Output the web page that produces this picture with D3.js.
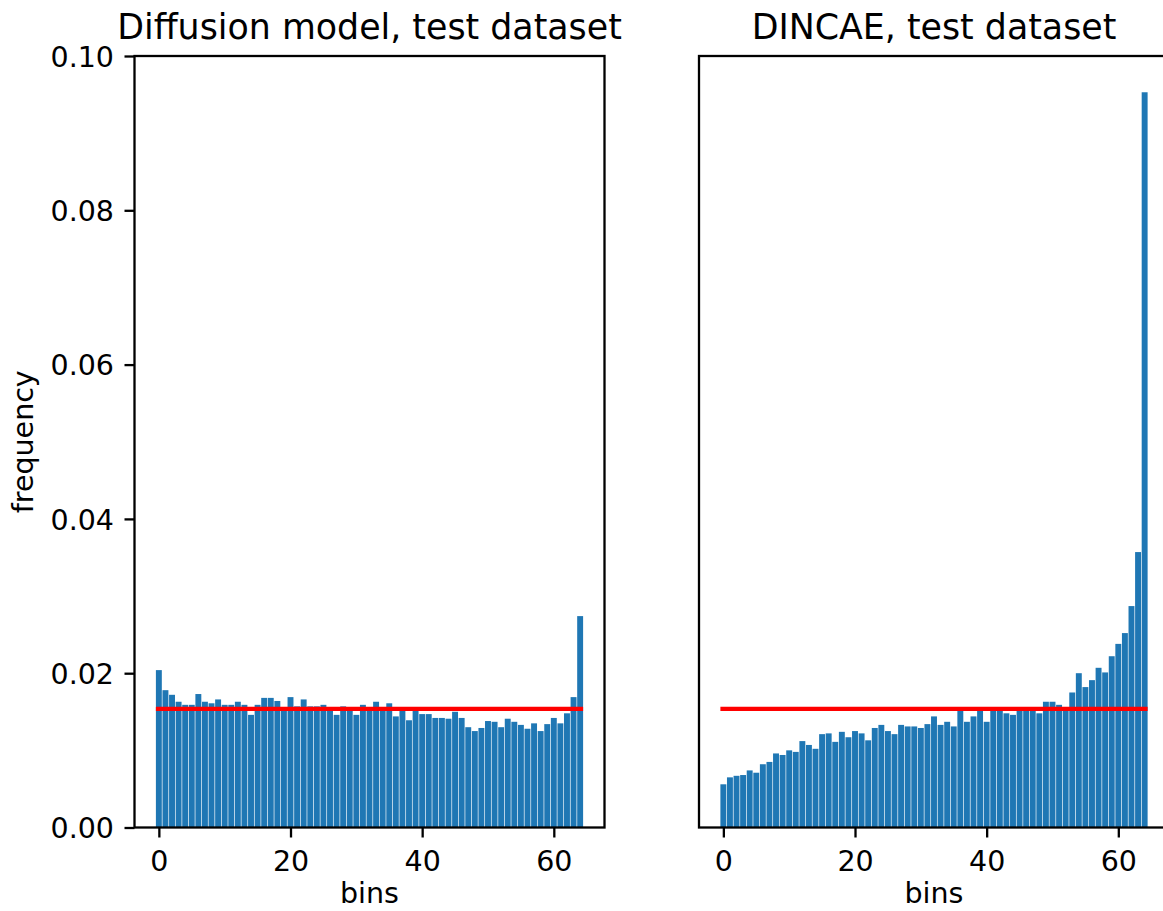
<!DOCTYPE html>
<html>
<head>
<meta charset="utf-8">
<script src="https://cdn.jsdelivr.net/npm/d3@7"></script>
<style>
  html, body { margin: 0; padding: 0; background: #fff; }
  svg { display: block; }
  text { font-family: "DejaVu Sans", sans-serif; fill: #000; }
</style>
</head>
<body>
<svg id="chart" width="1163" height="911"></svg>
<script>
// ---- data ----
const bins = d3.range(0, 65);
const diffusionFreq = [
  0.0204, 0.0178, 0.0172, 0.0163, 0.0159, 0.0159, 0.0173, 0.0163, 0.0161, 0.0166,
  0.0159, 0.0159, 0.0163, 0.0159, 0.0146, 0.0159, 0.0168, 0.0168, 0.0164, 0.0156,
  0.0169, 0.0157, 0.0166, 0.0157, 0.0157, 0.0159, 0.0156, 0.0146, 0.0157, 0.0156,
  0.0146, 0.0159, 0.0156, 0.0163, 0.0156, 0.0161, 0.0144, 0.0151, 0.0139, 0.0151,
  0.0147, 0.0147, 0.0142, 0.0142, 0.0141, 0.0150, 0.0142, 0.0130, 0.0125, 0.0129,
  0.0138, 0.0137, 0.0130, 0.0141, 0.0137, 0.0133, 0.0128, 0.0135, 0.0125, 0.0134,
  0.0142, 0.0135, 0.0148, 0.0169, 0.0274
];
const dincaeFreq = [
  0.0056, 0.0065, 0.0067, 0.0068, 0.0074, 0.0071, 0.0082, 0.0085, 0.0096, 0.0094,
  0.0100, 0.0098, 0.0112, 0.0107, 0.0102, 0.0121, 0.0122, 0.0111, 0.0124, 0.0117,
  0.0125, 0.0122, 0.0113, 0.0129, 0.0133, 0.0125, 0.0121, 0.0133, 0.0131, 0.0131,
  0.0129, 0.0134, 0.0144, 0.0133, 0.0137, 0.0131, 0.0153, 0.0137, 0.0144, 0.0153,
  0.0137, 0.0153, 0.0152, 0.0148, 0.0146, 0.0153, 0.0153, 0.0152, 0.0148, 0.0163,
  0.0163, 0.0159, 0.0154, 0.0175, 0.0200, 0.0182, 0.0191, 0.0207, 0.0201, 0.0222,
  0.0238, 0.0252, 0.0287, 0.0357, 0.0953
];
const uniformLevel = 0.015385;   // 1 / 65 bins
const panelTitles = ["Diffusion model, test dataset", "DINCAE, test dataset"];
const xTickValues = [0, 20, 40, 60];
const yTickValues = [0, 0.02, 0.04, 0.06, 0.08, 0.10];
const xLabel = "bins";
const yLabel = "frequency";

// ---- layout ----
const svg = d3.select("#chart");
const plotTop = 56, plotBottom = 827.5;
const panels = [
  { left: 134.5, right: 604.5, data: diffusionFreq, title: panelTitles[0], yAxis: true },
  { left: 699, right: 1169, data: dincaeFreq, title: panelTitles[1], yAxis: false }
];
const barWidth = 0.9;
const tickFont = 28.5, titleFont = 34.8, labelFont = 28.5;
const spineW = 2.3;

const y = d3.scaleLinear().domain([0, 0.1]).range([plotBottom, plotTop]);

panels.forEach(p => {
  const x = d3.scaleLinear().domain([-3.7, 67.7]).range([p.left, p.right]);
  const g = svg.append("g");

  // bars
  g.selectAll("rect.bar").data(bins).enter().append("rect")
    .attr("class", "bar")
    .attr("x", d => x(d - barWidth / 2))
    .attr("width", d => x(d + barWidth / 2) - x(d - barWidth / 2))
    .attr("y", d => y(p.data[d]))
    .attr("height", d => y(0) - y(p.data[d]))
    .attr("fill", "#1f77b4");

  // uniform reference line
  g.append("line")
    .attr("x1", x(-barWidth / 2)).attr("x2", x(64 + barWidth / 2))
    .attr("y1", y(uniformLevel)).attr("y2", y(uniformLevel))
    .attr("stroke", "#ff0000").attr("stroke-width", 4.2);

  // x axis
  const xAxis = d3.axisBottom(x).tickValues(xTickValues).tickSize(10).tickPadding(10)
    .tickFormat(d3.format("d"));
  const xa = g.append("g").attr("transform", `translate(0,${plotBottom})`).call(xAxis);
  xa.select(".domain").remove();
  xa.selectAll(".tick line").attr("stroke", "#000").attr("stroke-width", spineW);
  xa.selectAll(".tick text").attr("font-size", tickFont).attr("font-family", "DejaVu Sans")
    .attr("fill", "#000").attr("dy", null).attr("y", 43.5);

  // y axis
  if (p.yAxis) {
    const yAxis = d3.axisLeft(y).tickValues(yTickValues).tickSize(10).tickPadding(10)
      .tickFormat(d3.format(".2f"));
    const ya = g.append("g").attr("transform", `translate(${p.left},0)`).call(yAxis);
    ya.select(".domain").remove();
    ya.selectAll(".tick line").attr("stroke", "#000").attr("stroke-width", spineW);
    ya.selectAll(".tick text").attr("font-size", tickFont).attr("font-family", "DejaVu Sans")
      .attr("fill", "#000").attr("dy", "0.36em").attr("x", -20.5);
    svg.append("text")
      .attr("transform", `translate(33,${(plotTop + plotBottom) / 2}) rotate(-90)`)
      .attr("text-anchor", "middle")
      .attr("font-size", labelFont)
      .text(yLabel);
  }

  // spines
  g.append("rect")
    .attr("x", p.left).attr("y", plotTop)
    .attr("width", p.right - p.left).attr("height", plotBottom - plotTop)
    .attr("fill", "none").attr("stroke", "#000").attr("stroke-width", spineW);

  // title
  g.append("text")
    .attr("x", (p.left + p.right) / 2).attr("y", 38.5)
    .attr("text-anchor", "middle").attr("font-size", titleFont)
    .text(p.title);

  // x label
  g.append("text")
    .attr("x", (p.left + p.right) / 2).attr("y", 903)
    .attr("text-anchor", "middle").attr("font-size", labelFont)
    .text(xLabel);
});
</script>
</body>
</html>
